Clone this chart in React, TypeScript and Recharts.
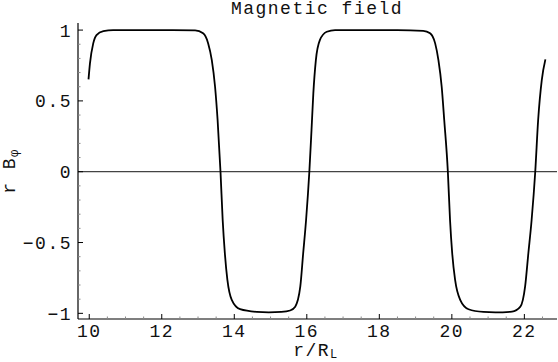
import React from 'react';
import { LineChart, Line, XAxis, YAxis, ReferenceLine } from 'recharts';

// r / R_L values
const rValues = [
  9.98, 10.02, 10.11, 10.2, 10.39, 10.66, 11.5, 12.3, 12.92, 13.14, 13.28, 13.38,
  13.47, 13.54, 13.62, 13.68, 13.74, 13.81, 13.93, 14.16, 14.62, 14.95, 15.3, 15.54,
  15.68, 15.82, 15.9, 15.98, 16.07, 16.13, 16.18, 16.25, 16.36, 16.55, 16.78, 17.6,
  18.5, 19.21, 19.4, 19.54, 19.63, 19.72, 19.79, 19.89, 19.95, 20.01, 20.09, 20.23,
  20.46, 20.87, 21.2, 21.66, 21.89, 22.02, 22.11, 22.2, 22.3, 22.38, 22.48, 22.58,
];

// r B_phi values at those points
const bValues = [
  0.652, 0.765, 0.906, 0.965, 0.993, 1.0, 1.0, 1.0, 0.998, 0.977, 0.906, 0.788,
  0.6, 0.365, 0, -0.341, -0.576, -0.764, -0.905, -0.971, -0.99, -0.993, -0.99, -0.98,
  -0.953, -0.812, -0.576, -0.341, 0, 0.294, 0.553, 0.788, 0.929, 0.988, 1.0, 1.0,
  1.0, 0.995, 0.977, 0.906, 0.788, 0.6, 0.365, 0, -0.341, -0.576, -0.764, -0.905,
  -0.971, -0.99, -0.993, -0.988, -0.953, -0.812, -0.576, -0.341, 0, 0.365, 0.647, 0.793,
];

const xMajor = [10, 12, 14, 16, 18, 20, 22];
const xTicks = [
  10, 10.5, 11, 11.5, 12, 12.5, 13, 13.5, 14, 14.5, 15, 15.5, 16, 16.5, 17, 17.5,
  18, 18.5, 19, 19.5, 20, 20.5, 21, 21.5, 22, 22.5,
];
const yMajor = [-1, -0.5, 0, 0.5, 1];
const yTicks = [
  -1, -0.9, -0.8, -0.7, -0.6, -0.5, -0.4, -0.3, -0.2, -0.1, 0,
  0.1, 0.2, 0.3, 0.4, 0.5, 0.6, 0.7, 0.8, 0.9, 1,
];

const data = rValues.map((r, i) => ({ r, b: bValues[i] }));

const FONT = '"Liberation Mono", "Courier New", monospace';
const INK = '#111';
const fmt = (v: number) => String(v).replace('-', '\u2212');
const isMajor = (list: number[], v: number) => list.some((m) => Math.abs(m - v) < 1e-6);

const BottomTick = (p: any) => {
  const v = p.payload.value;
  const major = isMajor(xMajor, v);
  return (
    <g>
      <line x1={p.x} x2={p.x} y1={p.y} y2={p.y - (major ? 5 : 2.5)} stroke={major ? '#000' : '#888'} />
      {major && (
        <text x={p.x} y={p.y + 18.3} textAnchor="middle" fontFamily={FONT} fontSize={18} letterSpacing={1.5} fill={INK}>
          {fmt(v)}
        </text>
      )}
    </g>
  );
};

const TopTick = (p: any) => {
  const major = isMajor(xMajor, p.payload.value);
  return <line x1={p.x} x2={p.x} y1={p.y} y2={p.y + (major ? 5 : 2.5)} stroke={major ? '#000' : '#888'} />;
};

const LeftTick = (p: any) => {
  const v = p.payload.value;
  const major = isMajor(yMajor, v);
  return (
    <g>
      <line x1={p.x} x2={p.x + (major ? 5 : 2.5)} y1={p.y} y2={p.y} stroke={major ? '#000' : '#888'} />
      {major && (
        <text x={p.x - 6} y={p.y + 6.5} textAnchor="end" fontFamily={FONT} fontSize={18} letterSpacing={1.5} fill={INK}>
          {fmt(v)}
        </text>
      )}
    </g>
  );
};

const RightTick = (p: any) => {
  const major = isMajor(yMajor, p.payload.value);
  return <line x1={p.x} x2={p.x - (major ? 5 : 2.5)} y1={p.y} y2={p.y} stroke={major ? '#000' : '#888'} />;
};

const App = () => (
  <div style={{ position: 'absolute', left: 0, top: 0, width: 558, height: 362, background: '#fff' }}>
    <LineChart width={558} height={362} data={data} margin={{ top: 23, right: 1, left: 0, bottom: 0 }}>
      <XAxis
        xAxisId="b"
        dataKey="r"
        type="number"
        domain={[9.69, 22.9]}
        allowDataOverflow
        ticks={xTicks}
        interval={0}
        height={43}
        tickSize={0}
        tickMargin={0}
        tickLine={false}
        axisLine={{ stroke: '#000', strokeWidth: 1.2 }}
        tick={BottomTick}
      />
      <XAxis
        xAxisId="t"
        dataKey="r"
        type="number"
        orientation="top"
        domain={[9.69, 22.9]}
        allowDataOverflow
        ticks={xTicks}
        interval={0}
        height={0}
        tickSize={0}
        tickMargin={0}
        tickLine={false}
        axisLine={{ stroke: '#000', strokeWidth: 1.2 }}
        tick={TopTick}
      />
      <YAxis
        yAxisId="l"
        type="number"
        domain={[-1.04, 1.05]}
        allowDataOverflow
        ticks={yTicks}
        interval={0}
        width={78}
        tickSize={0}
        tickMargin={0}
        tickLine={false}
        axisLine={{ stroke: '#000', strokeWidth: 1.2 }}
        tick={LeftTick}
      />
      <YAxis
        yAxisId="rt"
        type="number"
        orientation="right"
        domain={[-1.04, 1.05]}
        allowDataOverflow
        ticks={yTicks}
        interval={0}
        width={0}
        tickSize={0}
        tickMargin={0}
        tickLine={false}
        axisLine={{ stroke: '#000', strokeWidth: 1.2 }}
        tick={RightTick}
      />
      <ReferenceLine xAxisId="b" yAxisId="l" y={0} stroke="#444" strokeWidth={1.2} />
      <Line
        xAxisId="b"
        yAxisId="l"
        dataKey="b"
        type="monotone"
        stroke="#000"
        strokeWidth={1.8}
        dot={false}
        isAnimationActive={false}
      />
    </LineChart>
    <svg width={558} height={362} style={{ position: 'absolute', left: 0, top: 0, pointerEvents: 'none' }}>
      <text x={317} y={14} textAnchor="middle" fontFamily={FONT} fontSize={18} letterSpacing={1.5} fill={INK}>
        Magnetic field
      </text>
      <text x={316} y={356} textAnchor="middle" fontFamily={FONT} fontSize={18} letterSpacing={1.5} fill={INK}>
        r/R
        <tspan fontSize={12} dy={2} fill={INK}>
          L
        </tspan>
      </text>
      <text
        x={14.5}
        y={171}
        transform="rotate(-90, 14.5, 171)"
        textAnchor="middle"
        fontFamily={FONT}
        fontSize={18}
        letterSpacing={1.5}
        fill={INK}
      >
        r B
        <tspan fontSize={12} dy={3} fill={INK}>
          φ
        </tspan>
      </text>
    </svg>
  </div>
);

export default App;
